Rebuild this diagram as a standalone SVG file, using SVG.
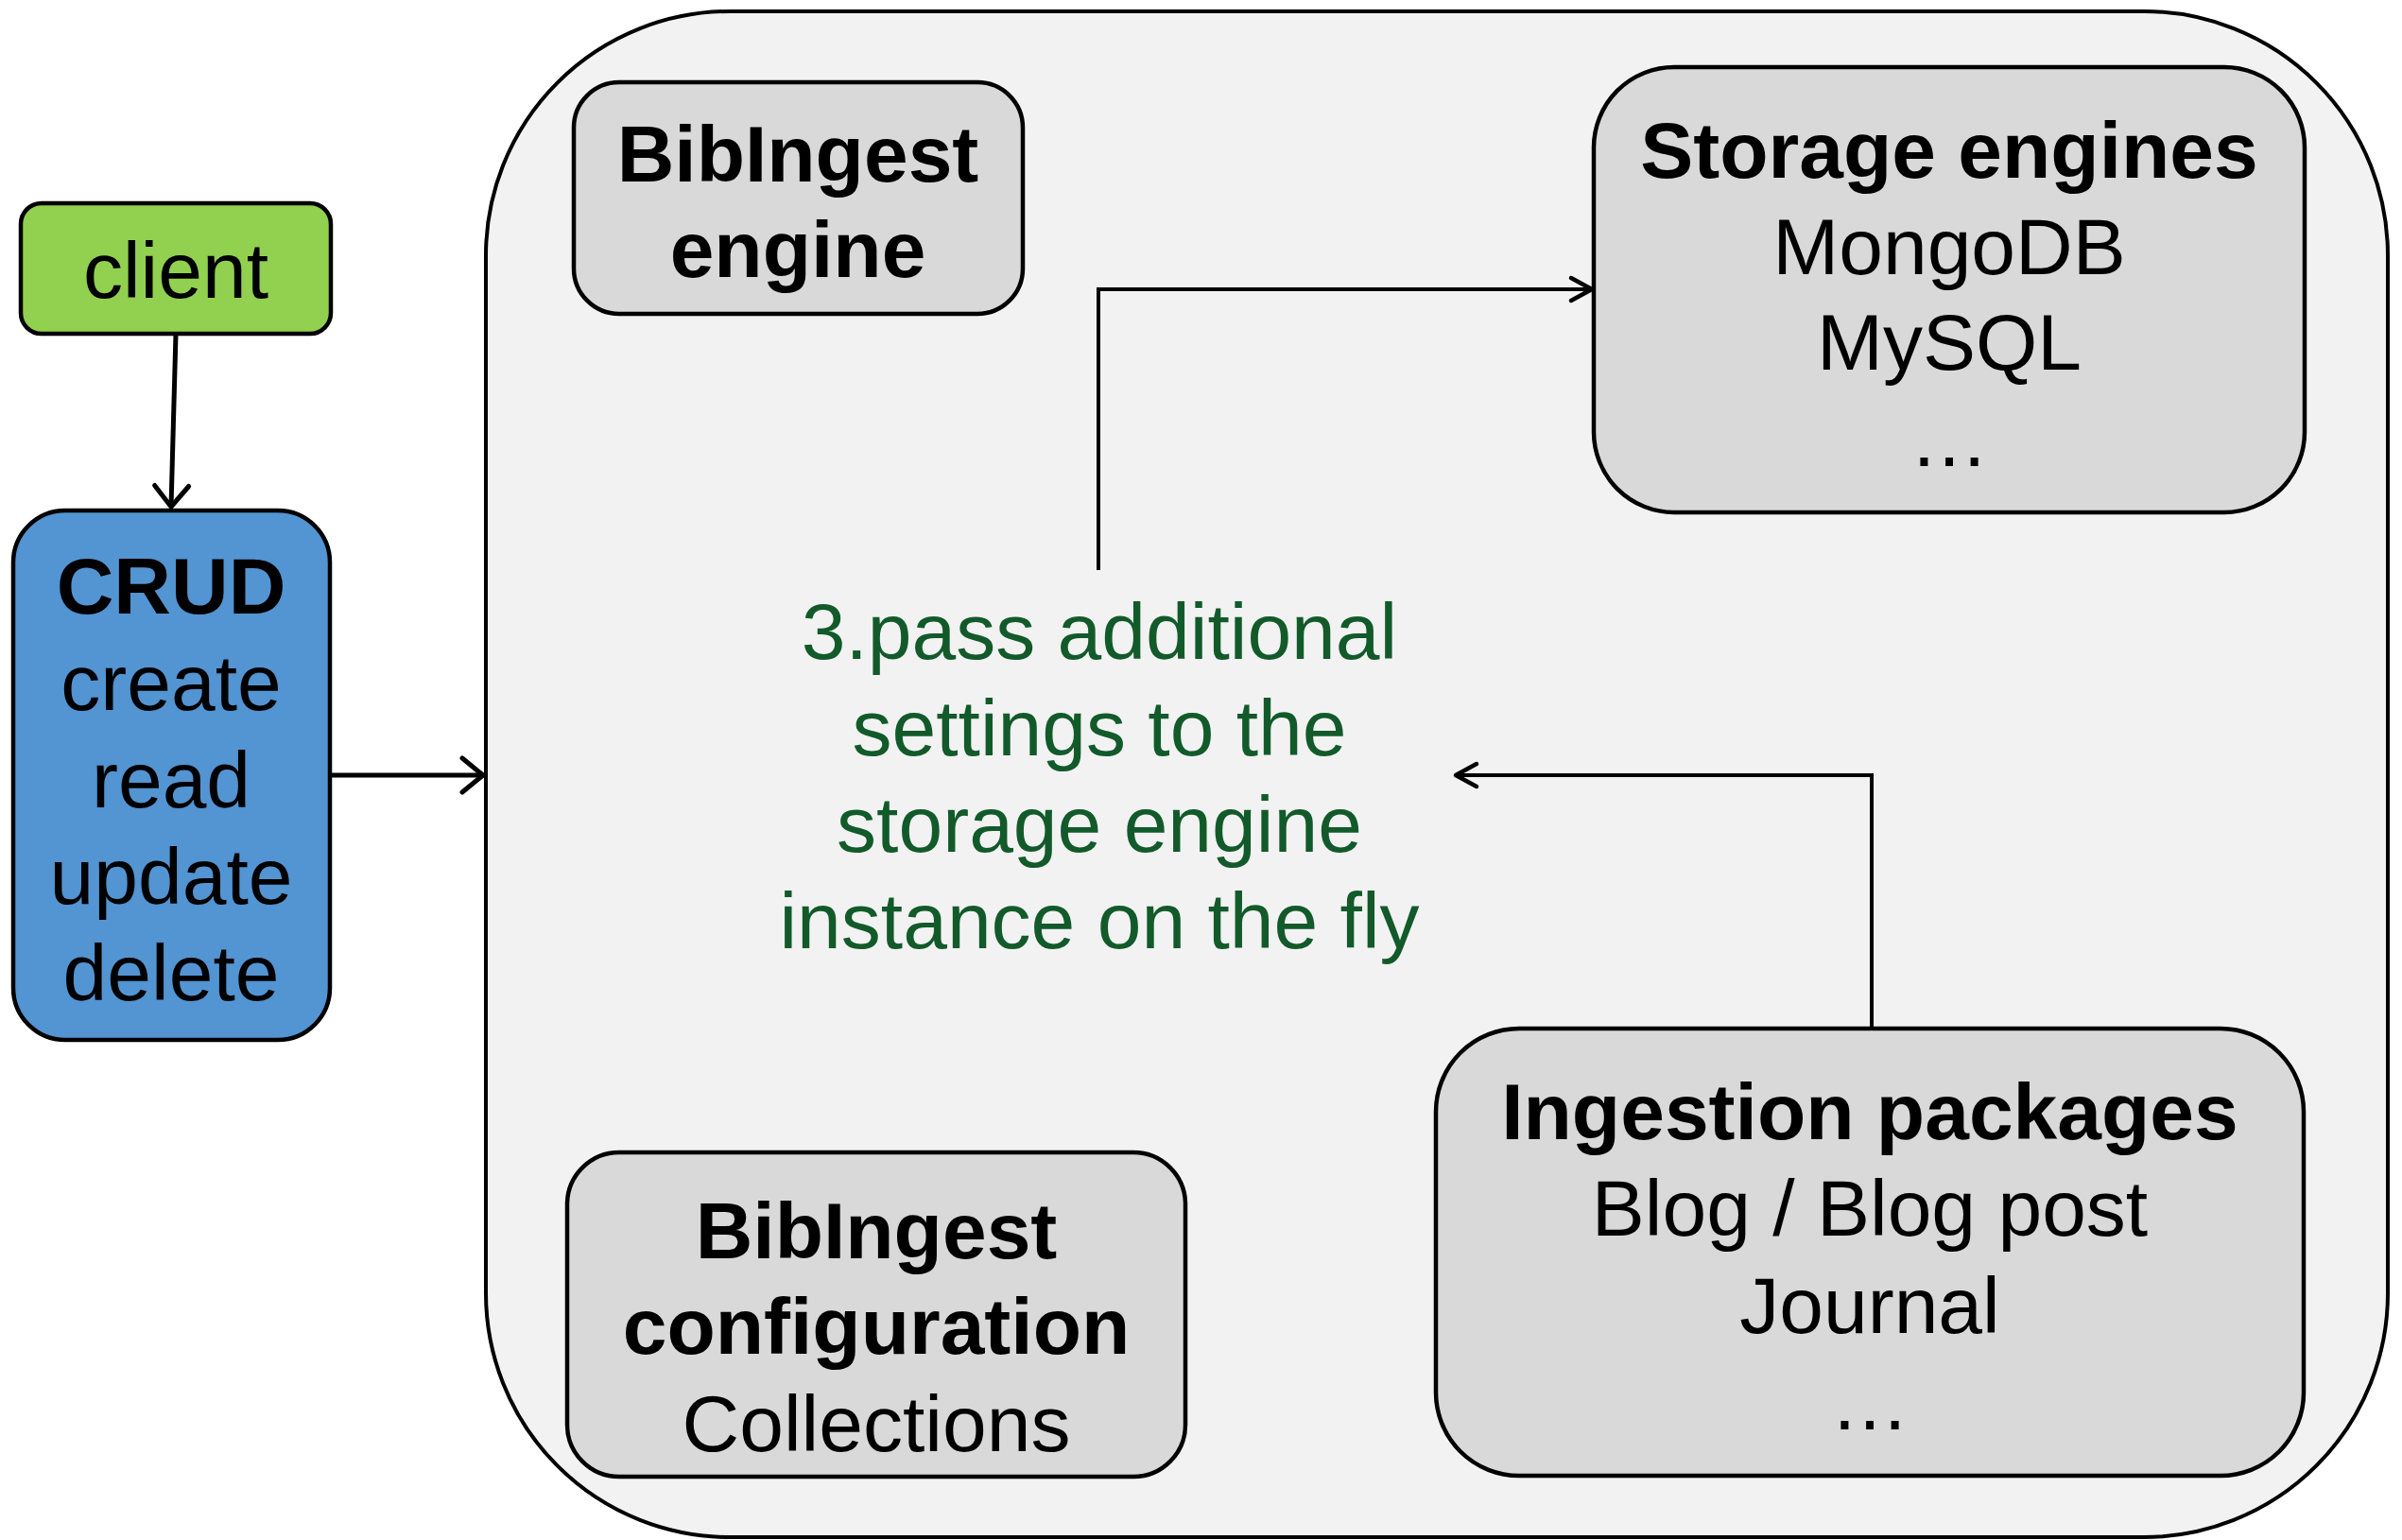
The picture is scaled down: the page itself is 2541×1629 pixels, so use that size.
<svg xmlns="http://www.w3.org/2000/svg" width="2541" height="1629" viewBox="0 0 2541 1629">
  <style>
    .node { stroke: #000; stroke-width: 4.5; }
    .gray { fill: #D9D9D9; }
    .t { font-family: "Liberation Sans", Arial, sans-serif; font-size: 84px; fill: #000; text-anchor: middle; }
    .b { font-weight: bold; }
    .green { fill: #125A2A; }
    .conn { fill: none; stroke: #000; stroke-width: 4; }
    .connb { fill: none; stroke: #000; stroke-width: 5; }
  </style>
  <defs>
    <marker id="arrowBig" markerUnits="userSpaceOnUse" viewBox="-30 -25 36 50" markerWidth="36" markerHeight="50" refX="0" refY="0" orient="auto">
      <path d="M-22,-18 L0,0 L-22,18" fill="none" stroke="#000" stroke-width="5" stroke-linecap="round" stroke-linejoin="round"/>
    </marker>
    <marker id="arrowSmall" markerUnits="userSpaceOnUse" viewBox="-30 -20 36 40" markerWidth="36" markerHeight="40" refX="0" refY="0" orient="auto">
      <path d="M-22,-12 L0,0 L-22,12" fill="none" stroke="#000" stroke-width="4.5" stroke-linecap="round" stroke-linejoin="round"/>
    </marker>
  </defs>

  <g id="container">
    <rect x="514" y="12" width="2012" height="1614" rx="258" ry="258" fill="#F2F2F2" stroke="#000" stroke-width="4"/>
  </g>

  <g id="connectors">
    <line class="connb" x1="186" y1="353" x2="181" y2="536" marker-end="url(#arrowBig)"/>
    <line class="connb" x1="349" y1="820" x2="511" y2="820" marker-end="url(#arrowBig)"/>
    <polyline class="conn" points="1162,603 1162,306 1684,306" marker-end="url(#arrowSmall)"/>
    <polyline class="conn" points="1980,1088 1980,820 1540,820" marker-end="url(#arrowSmall)"/>
  </g>

  <g id="client">
    <rect class="node" x="22" y="215" width="328" height="138" rx="22" ry="22" fill="#92D050"/>
    <text class="t" x="186" y="315">client</text>
  </g>

  <g id="crud">
    <rect class="node" x="14" y="540" width="335" height="560" rx="55" ry="55" fill="#5394D2"/>
    <text class="t b" x="181" y="649">CRUD</text>
    <text class="t" x="181" y="751">create</text>
    <text class="t" x="181" y="854">read</text>
    <text class="t" x="181" y="956">update</text>
    <text class="t" x="181" y="1058">delete</text>
  </g>

  <g id="bibingest-engine">
    <rect class="node gray" x="607" y="87" width="475" height="245" rx="48" ry="48"/>
    <text class="t b" x="844" y="192">BibIngest</text>
    <text class="t b" x="844" y="293">engine</text>
  </g>

  <g id="storage-engines">
    <rect class="node gray" x="1686" y="71" width="752" height="471" rx="85" ry="85"/>
    <text class="t b" x="2062" y="188">Storage engines</text>
    <text class="t" x="2062" y="290">MongoDB</text>
    <text class="t" x="2062" y="391">MySQL</text>
    <text class="t" x="2062" y="493">…</text>
  </g>

  <g id="label-settings">
    <text class="t green" x="1163" y="697">3.pass additional</text>
    <text class="t green" x="1163" y="799">settings to the</text>
    <text class="t green" x="1163" y="901">storage engine</text>
    <text class="t green" x="1163" y="1003">instance on the fly</text>
  </g>

  <g id="bibingest-configuration">
    <rect class="node gray" x="600" y="1219" width="654" height="343" rx="55" ry="55"/>
    <text class="t b" x="927" y="1331">BibIngest</text>
    <text class="t b" x="927" y="1432">configuration</text>
    <text class="t" x="927" y="1535">Collections</text>
  </g>

  <g id="ingestion-packages">
    <rect class="node gray" x="1519" y="1088" width="918" height="473" rx="88" ry="88"/>
    <text class="t b" x="1978" y="1205">Ingestion packages</text>
    <text class="t" x="1978" y="1307">Blog / Blog post</text>
    <text class="t" x="1978" y="1410">Journal</text>
    <text class="t" x="1978" y="1512">…</text>
  </g>
</svg>
